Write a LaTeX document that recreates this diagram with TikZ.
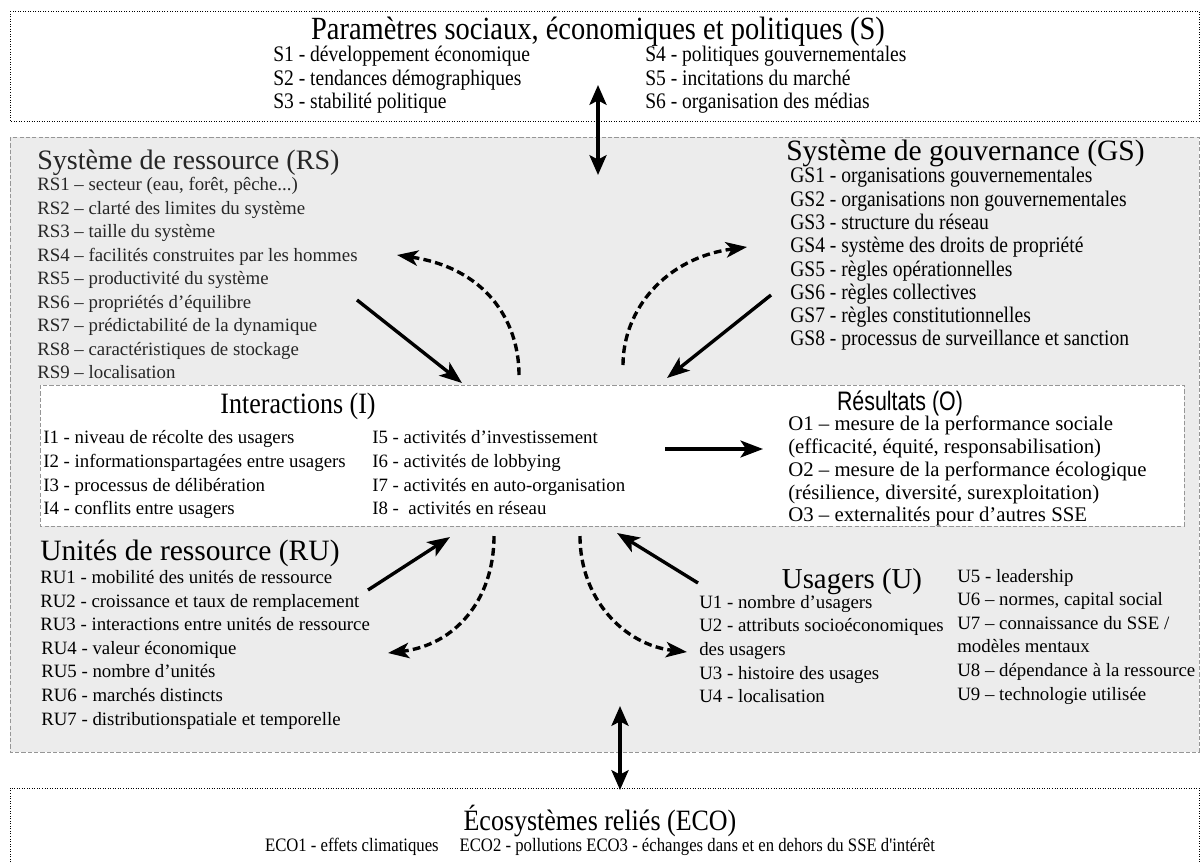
\documentclass[tikz,border=0pt]{standalone}
\usepackage{fontspec}
\setmainfont{Liberation Serif}
\newfontfamily\narrowserif{Liberation Serif}[FakeStretch=0.88]
\newfontfamily\narrowsans{Liberation Sans}[FakeStretch=0.8]
\usetikzlibrary{arrows.meta, positioning}
\definecolor{coregray}{RGB}{236,236,236}
\definecolor{edgegray}{RGB}{150,150,150}

\begin{document}
\begin{tikzpicture}[
    x=0.025cm, y=-0.025cm,
    item/.style={anchor=west, inner sep=0pt, text height=1.6ex, text depth=0.4ex, font=\fontsize{13.4}{16}\selectfont},
    narrowitem/.style={item, font=\narrowserif\fontsize{15.8}{18}\selectfont},
    heading/.style={anchor=west, inner sep=0pt, font=\fontsize{20}{24}\selectfont},
    narrowheading/.style={heading, font=\narrowserif\fontsize{23}{26}\selectfont},
    outerbox/.style={draw, line width=0.6pt, dash pattern=on 0.7pt off 1.1pt},
    corebox/.style={draw=edgegray, fill=coregray, line width=0.6pt, dash pattern=on 3pt off 1.5pt},
    innerbox/.style={draw=edgegray, fill=white, line width=0.6pt, dash pattern=on 3pt off 1.5pt},
    mainarrow/.style={-{Stealth[length=16pt,width=12pt,inset=4pt]}, line width=2.4pt},
    twoway/.style={{Stealth[length=14pt,width=12pt,inset=3pt]}-{Stealth[length=14pt,width=12pt,inset=3pt]}, line width=2.8pt},
    feedback/.style={-{Stealth[length=15pt,width=11pt,inset=4pt]}, line width=2.4pt, dash pattern=on 5.5pt off 3pt}
]
    \useasboundingbox (0,0) rectangle (1201,862);

    % Boxes
    \draw[outerbox] (10,11) rectangle (1199,121);
    \draw[corebox] (10,137) rectangle (1199,752);
    \draw[innerbox] (40,385) rectangle (1184,526);
    \draw[outerbox] (10,880) -- (10,788) -- (1199,788) -- (1199,880);

    % Social, economic and political settings
    \node[narrowheading, anchor=center] (stitle) at (598,32) {Paramètres sociaux, économiques et politiques (S)};
    \node[narrowitem] (s1) at (273,58) {S1 - développement économique};
    \node[narrowitem] (s2) at (273,81.5) {S2 - tendances démographiques};
    \node[narrowitem] (s3) at (273,105) {S3 - stabilité politique};
    \node[narrowitem] (s4) at (645,58) {S4 - politiques gouvernementales};
    \node[narrowitem] (s5) at (645,81.5) {S5 - incitations du marché};
    \node[narrowitem] (s6) at (645,105) {S6 - organisation des médias};

    % Resource system
    \begin{scope}[black!85]
    \node[heading] (rstitle) at (37,163) {Système de ressource (RS)};
    \node[item] (rs1) at (37,187) {RS1 – secteur (eau, forêt, pêche...)};
    \node[item] (rs2) at (37,210.5) {RS2 – clarté des limites du système};
    \node[item] (rs3) at (37,234) {RS3 – taille du système};
    \node[item] (rs4) at (37,257.5) {RS4 – facilités construites par les hommes};
    \node[item] (rs5) at (37,281) {RS5 – productivité du système};
    \node[item] (rs6) at (37,304.5) {RS6 – propriétés d'équilibre};
    \node[item] (rs7) at (37,328) {RS7 – prédictabilité de la dynamique};
    \node[item] (rs8) at (37,351.5) {RS8 – caractéristiques de stockage};
    \node[item] (rs9) at (37,375) {RS9 – localisation};
    \end{scope}

    % Governance system
    \node[heading, font=\fontsize{21}{24}\selectfont] (gstitle) at (786,153) {Système de gouvernance (GS)};
    \node[narrowitem] (gs1) at (790,179) {GS1 - organisations gouvernementales};
    \node[narrowitem] (gs2) at (790,202.3) {GS2 - organisations non gouvernementales};
    \node[narrowitem] (gs3) at (790,225.6) {GS3 - structure du réseau};
    \node[narrowitem] (gs4) at (790,248.9) {GS4 - système des droits de propriété};
    \node[narrowitem] (gs5) at (790,272.2) {GS5 - règles opérationnelles};
    \node[narrowitem] (gs6) at (790,295.5) {GS6 - règles collectives};
    \node[narrowitem] (gs7) at (790,318.8) {GS7 - règles constitutionnelles};
    \node[narrowitem] (gs8) at (790,342.1) {GS8 - processus de surveillance et sanction};

    % Interactions
    \node[narrowheading, anchor=center, font=\narrowserif\fontsize{21}{24}\selectfont] (ititle) at (298,406) {Interactions (I)};
    \node[item] (i1) at (43,440) {I1 - niveau de récolte des usagers};
    \node[item] (i2) at (43,464) {I2 - informationspartagées entre usagers};
    \node[item] (i3) at (43,488) {I3 - processus de délibération};
    \node[item] (i4) at (43,511) {I4 - conflits entre usagers};
    \node[item] (i5) at (372,440) {I5 - activités d'investissement};
    \node[item] (i6) at (372,464) {I6 - activités de lobbying};
    \node[item] (i7) at (372,488) {I7 - activités en auto-organisation};
    \node[item] (i8) at (372,511) {I8 - \ activités en réseau};

    % Outcomes
    \node[heading, anchor=center, font=\narrowsans\fontsize{19}{22}\selectfont] (otitle) at (900,403) {Résultats (O)};
    \node[item, font=\fontsize{14.8}{17}\selectfont] (o1) at (788,427) {O1 – mesure de la performance sociale};
    \node[item, font=\fontsize{14.8}{17}\selectfont] (o1b) at (788,450) {(efficacité, équité, responsabilisation)};
    \node[item, font=\fontsize{14.8}{17}\selectfont] (o2) at (788,473) {O2 – mesure de la performance écologique};
    \node[item, font=\fontsize{14.8}{17}\selectfont] (o2b) at (788,496) {(résilience, diversité, surexploitation)};
    \node[item, font=\fontsize{14.8}{17}\selectfont] (o3) at (788,518) {O3 – externalités pour d'autres SSE};

    % Resource units
    \node[heading, font=\fontsize{21}{24}\selectfont] (rutitle) at (40,553) {Unités de ressource (RU)};
    \node[item] (ru1) at (40,580) {RU1 - mobilité des unités de ressource};
    \node[item] (ru2) at (40,604) {RU2 - croissance et taux de remplacement};
    \node[item] (ru3) at (40,627) {RU3 - interactions entre unités de ressource};
    \node[item] (ru4) at (41,651) {RU4 - valeur économique};
    \node[item] (ru5) at (41,674) {RU5 - nombre d'unités};
    \node[item] (ru6) at (41,698) {RU6 - marchés distincts};
    \node[item] (ru7) at (41,722) {RU7 - distributionspatiale et temporelle};

    % Users
    \node[heading, anchor=center, font=\fontsize{20.5}{24}\selectfont] (utitle) at (852,582) {Usagers (U)};
    \node[item] (u1) at (699,605) {U1 - nombre d'usagers};
    \node[item] (u2) at (699,628) {U2 - attributs socioéconomiques};
    \node[item] (u2b) at (699,652) {des usagers};
    \node[item] (u3) at (699,676) {U3 - histoire des usages};
    \node[item] (u4) at (699,699) {U4 - localisation};
    \node[item] (u5) at (957,579) {U5 - leadership};
    \node[item] (u6) at (957,602) {U6 – normes, capital social};
    \node[item] (u7) at (957,626) {U7 – connaissance du SSE /};
    \node[item] (u7b) at (957,649) {modèles mentaux};
    \node[item] (u8) at (957,673) {U8 – dépendance à la ressource};
    \node[item] (u9) at (957,697) {U9 – technologie utilisée};

    % Related ecosystems
    \node[narrowheading, anchor=center, font=\narrowserif\fontsize{21}{24}\selectfont] (ecotitle) at (600,821) {Écosystèmes reliés (ECO)};
    \node[narrowitem, anchor=center, font=\narrowserif\fontsize{13.5}{16}\selectfont] (eco) at (600,848) {ECO1 - effets climatiques\hspace{1.1em}ECO2 - pollutions ECO3 - échanges dans et en dehors du SSE d'intérêt};

    % Arrow ends
    \coordinate (stop) at (598,85);
    \coordinate (sbot) at (598,175);
    \coordinate (ecotop) at (620,706);
    \coordinate (ecobot) at (620,790);
    \coordinate (rsout) at (357,300);
    \coordinate (rsin) at (462,383);
    \coordinate (rsback) at (519,375);
    \coordinate (rsend) at (397,255);
    \coordinate (gsback) at (623,365);
    \coordinate (gsend) at (747,247);
    \coordinate (gsout) at (771,295);
    \coordinate (gsin) at (667,378);
    \coordinate (iout) at (665,449);
    \coordinate (oin) at (763,449);
    \coordinate (ruout) at (368,590);
    \coordinate (ruin) at (450,537);
    \coordinate (ruback) at (494,536);
    \coordinate (ruend) at (388,653);
    \coordinate (uback) at (580,536);
    \coordinate (uend) at (687,652);
    \coordinate (uout) at (698,583);
    \coordinate (uin) at (617,533);

    % Arrows
    \draw[twoway] (stop) -- (sbot);
    \draw[twoway] (ecotop) -- (ecobot);
    \draw[mainarrow] (rsout) -- (rsin);
    \draw[mainarrow] (gsout) -- (gsin);
    \draw[mainarrow] (iout) -- (oin);
    \draw[mainarrow] (ruout) -- (ruin);
    \draw[mainarrow] (uout) -- (uin);
    \draw[feedback] (rsback) .. controls (519,320) and (485,268) .. (rsend);
    \draw[feedback] (gsback) .. controls (623,310) and (665,258) .. (gsend);
    \draw[feedback] (ruback) .. controls (494,600) and (455,645) .. (ruend);
    \draw[feedback] (uback) .. controls (580,600) and (625,645) .. (uend);
\end{tikzpicture}
\end{document}
